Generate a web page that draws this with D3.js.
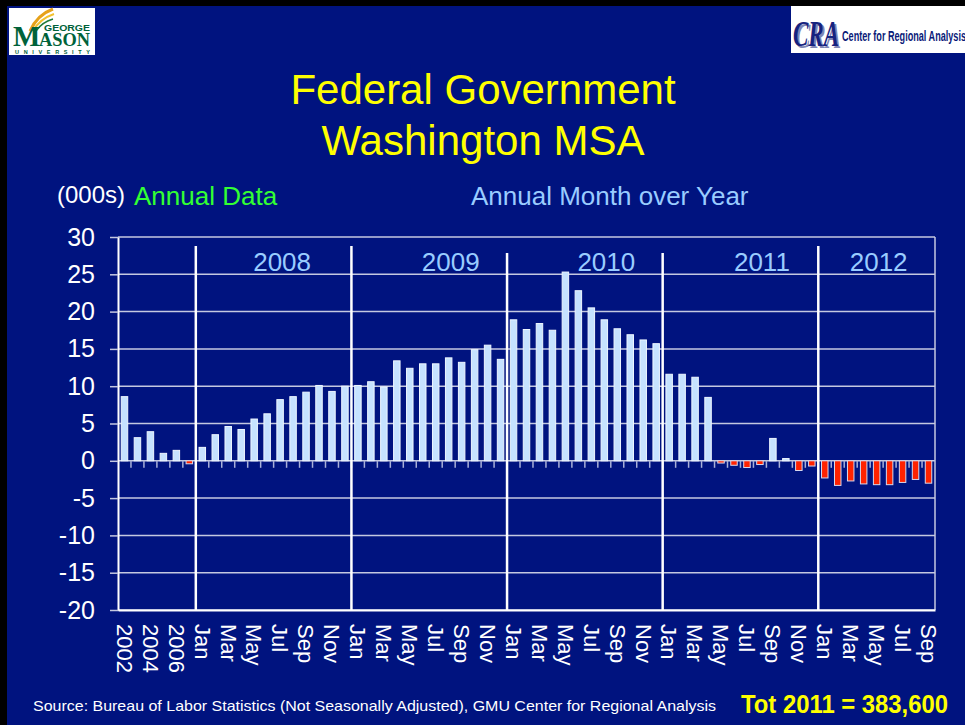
<!DOCTYPE html>
<html>
<head>
<meta charset="utf-8">
<script src="https://cdn.jsdelivr.net/npm/d3@7"></script>
<style>
body { margin: 0; background: #000; }
svg { display: block; font-family: "Liberation Sans", Arial, sans-serif; }
</style>
</head>
<body>
<div id="chart"></div>
<script>
// annual bars, then monthly over-the-year change (000s)
var annualYears = ["2002", "2003", "2004", "2005", "2006", "2007"];
var annualValues = [8.6, 3.1, 3.9, 1.0, 1.4, -0.4];
var monthNames = ["Jan", "Feb", "Mar", "Apr", "May", "Jun", "Jul", "Aug", "Sep", "Oct", "Nov", "Dec"];
var values2008 = [1.8, 3.5, 4.6, 4.2, 5.6, 6.3, 8.2, 8.6, 9.2, 10.1, 9.3, 10.0];
var values2009 = [10.1, 10.6, 9.9, 13.4, 12.4, 13.0, 13.0, 13.8, 13.2, 14.9, 15.5, 13.6];
var values2010 = [18.9, 17.6, 18.4, 17.5, 25.3, 22.8, 20.5, 18.9, 17.7, 16.9, 16.2, 15.7];
var values2011 = [11.6, 11.6, 11.2, 8.5, -0.3, -0.6, -0.9, -0.5, 3.0, 0.3, -1.3, -0.7];
var values2012 = [-2.3, -3.3, -2.7, -3.1, -3.2, -3.2, -2.9, -2.5, -3.0];
var monthYears = ["2008", "2009", "2010", "2011", "2012"];
var yearLabelMonth = ["Jul", "Aug", "Aug", "Aug", "May"];
var yTicks = [-20, -15, -10, -5, 0, 5, 10, 15, 20, 25, 30];

var data = [];
annualYears.forEach(function (y, i) {
    data.push({key: y, label: y, value: annualValues[i]});
});
[values2008, values2009, values2010, values2011, values2012].forEach(function (vals, j) {
    vals.forEach(function (v, i) {
        data.push({key: monthYears[j] + "-" + monthNames[i], label: monthNames[i], value: v});
    });
});

var W = 965, H = 725;
var margin = {top: 237, right: 30, bottom: 115, left: 118};
var width = W - margin.left - margin.right,
    height = H - margin.top - margin.bottom;

var svg = d3.select("#chart").append("svg")
    .attr("width", W)
    .attr("height", H);

// slide background
svg.append("rect").attr("width", W).attr("height", H).attr("fill", "#00137f");
svg.append("rect").attr("width", W).attr("height", 6).attr("fill", "#000");
svg.append("rect").attr("width", 7).attr("height", H).attr("fill", "#000");

// GMU logo
var gmu = svg.append("g");
gmu.append("rect").attr("x", 9).attr("y", 8).attr("width", 86).attr("height", 47).attr("fill", "#fff");
gmu.append("path").attr("d", "M30,31 C35,20 42,13 53,9").attr("fill", "none").attr("stroke", "#e6a11a").attr("stroke-width", 3);
gmu.append("path").attr("d", "M33,31 C38,22 45,17 54,14").attr("fill", "none").attr("stroke", "#f2c12e").attr("stroke-width", 2);
gmu.append("path").attr("d", "M36,31 C40,25 46,21 53,19").attr("fill", "none").attr("stroke", "#1f7a3a").attr("stroke-width", 1.5);
gmu.append("text").attr("x", 44).attr("y", 31).attr("textLength", 46).attr("lengthAdjust", "spacingAndGlyphs")
    .attr("font-size", 8.5).attr("font-weight", "bold").attr("fill", "#00623a").text("GEORGE");
gmu.append("text").attr("x", 13).attr("y", 46).attr("font-family", "Liberation Serif, serif")
    .attr("font-size", 29).attr("font-weight", "bold").attr("fill", "#00623a").text("M");
gmu.append("text").attr("x", 39).attr("y", 46).attr("textLength", 51).attr("lengthAdjust", "spacingAndGlyphs")
    .attr("font-family", "Liberation Serif, serif").attr("font-size", 18).attr("font-weight", "bold")
    .attr("fill", "#00623a").text("ASON");
gmu.append("text").attr("x", 15).attr("y", 53.5).attr("textLength", 75).attr("lengthAdjust", "spacing")
    .attr("font-size", 5.5).attr("font-weight", "bold").attr("fill", "#00623a").text("UNIVERSITY");

// CRA logo
var cra = svg.append("g");
cra.append("rect").attr("x", 791).attr("y", 6).attr("width", 174).attr("height", 47).attr("fill", "#fff");
cra.append("text").attr("x", 795).attr("y", 48).attr("textLength", 46).attr("lengthAdjust", "spacingAndGlyphs")
    .attr("font-family", "Liberation Serif, serif").attr("font-size", 36).attr("font-weight", "bold")
    .attr("font-style", "italic").attr("fill", "#7f86b5").text("CRA");
cra.append("text").attr("x", 793).attr("y", 46).attr("textLength", 46).attr("lengthAdjust", "spacingAndGlyphs")
    .attr("font-family", "Liberation Serif, serif").attr("font-size", 36).attr("font-weight", "bold")
    .attr("font-style", "italic").attr("fill", "#16237f").text("CRA");
cra.append("text").attr("x", 842).attr("y", 41).attr("textLength", 124).attr("lengthAdjust", "spacingAndGlyphs")
    .attr("font-size", 14).attr("font-weight", "bold").attr("fill", "#0a1a78").text("Center for Regional Analysis");

// titles
svg.append("text").attr("x", 483).attr("y", 104).attr("text-anchor", "middle")
    .attr("font-size", 42).attr("fill", "#ffff00").text("Federal Government");
svg.append("text").attr("x", 483).attr("y", 155).attr("text-anchor", "middle")
    .attr("font-size", 42).attr("fill", "#ffff00").text("Washington MSA");
svg.append("text").attr("x", 57).attr("y", 203).attr("font-size", 24).attr("fill", "#fff").text("(000s)");
svg.append("text").attr("x", 134).attr("y", 205).attr("font-size", 26).attr("fill", "#33ff33").text("Annual Data");
svg.append("text").attr("x", 471).attr("y", 205).attr("font-size", 26).attr("fill", "#99ccff").text("Annual Month over Year");

var g = svg.append("g")
    .attr("transform", "translate(" + margin.left + "," + margin.top + ")");

var x = d3.scaleBand()
    .domain(data.map(function (d) { return d.key; }))
    .range([0, width])
    .paddingInner(0.5)
    .paddingOuter(0.25);

var y = d3.scaleLinear()
    .domain([-20, 30])
    .range([height, 0]);

var gap = (x.step() - x.bandwidth()) / 2;

// gridlines
g.append("g")
    .selectAll("line")
    .data(yTicks)
    .enter().append("line")
    .attr("x1", 0)
    .attr("x2", width)
    .attr("y1", function (d) { return y(d); })
    .attr("y2", function (d) { return y(d); })
    .attr("stroke", "#c4c8e0")
    .attr("stroke-width", 1.5);

g.append("line").attr("x1", width).attr("x2", width).attr("y1", 0).attr("y2", height)
    .attr("stroke", "#c4c8e0").attr("stroke-width", 1.5);

// y axis
var yAxis = d3.axisLeft(y).tickValues(yTicks).tickSize(8).tickSizeOuter(0).tickPadding(15)
    .tickFormat(function (d) { return String(d); });
var ya = g.append("g").call(yAxis);
ya.select(".domain").attr("stroke", "#ffffff").attr("stroke-width", 2);
ya.selectAll(".tick line").attr("stroke", "#c4c8e0").attr("stroke-width", 1.5);
ya.selectAll(".tick text").attr("fill", "#fff").attr("font-size", 25)
    .attr("font-family", "Liberation Sans, Arial, sans-serif");

// small ticks between categories under the zero line
g.append("g")
    .selectAll("line")
    .data(data.slice(1))
    .enter().append("line")
    .attr("x1", function (d) { return x(d.key) - gap; })
    .attr("x2", function (d) { return x(d.key) - gap; })
    .attr("y1", y(0))
    .attr("y2", y(0) + 7)
    .attr("stroke", "#a8b0d8")
    .attr("stroke-width", 1.5);

// year dividers
g.append("g")
    .selectAll("line")
    .data(monthYears)
    .enter().append("line")
    .attr("x1", function (d) { return x(d + "-Jan") - gap; })
    .attr("x2", function (d) { return x(d + "-Jan") - gap; })
    .attr("y1", function (d) { return d === "2010" || d === "2011" ? 16 : 9; })
    .attr("y2", height)
    .attr("stroke", "#fff")
    .attr("stroke-width", 2.5);

g.append("g")
    .selectAll("text")
    .data(monthYears)
    .enter().append("text")
    .attr("x", function (d, i) { return x(d + "-" + yearLabelMonth[i]) + x.bandwidth() / 2 + 2; })
    .attr("y", 34)
    .attr("text-anchor", "middle")
    .attr("font-size", 26)
    .attr("fill", "#99ccff")
    .text(function (d) { return d; });

// bars
g.selectAll(".bar")
    .data(data)
    .enter().append("rect")
    .attr("class", "bar")
    .attr("x", function (d) { return x(d.key); })
    .attr("width", x.bandwidth())
    .attr("y", function (d) { return y(Math.max(0, d.value)); })
    .attr("height", function (d) { return Math.abs(y(d.value) - y(0)); })
    .attr("fill", function (d) { return d.value < 0 ? "#ff2200" : "#c6e2ff"; })
    .attr("stroke", function (d) { return d.value < 0 ? "#d8d8ec" : "#eef6ff"; })
    .attr("stroke-width", 1);

// x axis labels, every other category
var xAxis = d3.axisBottom(x)
    .tickValues(data.filter(function (d, i) { return i % 2 === 0; }).map(function (d) { return d.key; }))
    .tickFormat(function (k) { return k.indexOf("-") > 0 ? k.split("-")[1] : k; })
    .tickSize(0);
var xa = g.append("g")
    .attr("transform", "translate(0," + height + ")")
    .call(xAxis);
xa.select(".domain").attr("stroke", "#fff").attr("stroke-width", 2);
xa.selectAll(".tick text")
    .attr("fill", "#fff")
    .attr("font-size", 22)
    .attr("font-family", "Liberation Sans, Arial, sans-serif")
    .attr("transform", "rotate(90)")
    .attr("x", 14)
    .attr("y", 0)
    .attr("dy", "0.35em")
    .style("text-anchor", "start");

// footer
svg.append("text").attr("x", 33).attr("y", 711).attr("textLength", 683).attr("lengthAdjust", "spacingAndGlyphs")
    .attr("font-size", 15).attr("fill", "#fff")
    .text("Source: Bureau of Labor Statistics (Not Seasonally Adjusted), GMU Center for Regional Analysis");
svg.append("text").attr("x", 741).attr("y", 713).attr("textLength", 207).attr("lengthAdjust", "spacingAndGlyphs")
    .attr("font-size", 26).attr("font-weight", "bold").attr("fill", "#ffff00")
    .text("Tot 2011 = 383,600");
</script>
</body>
</html>
